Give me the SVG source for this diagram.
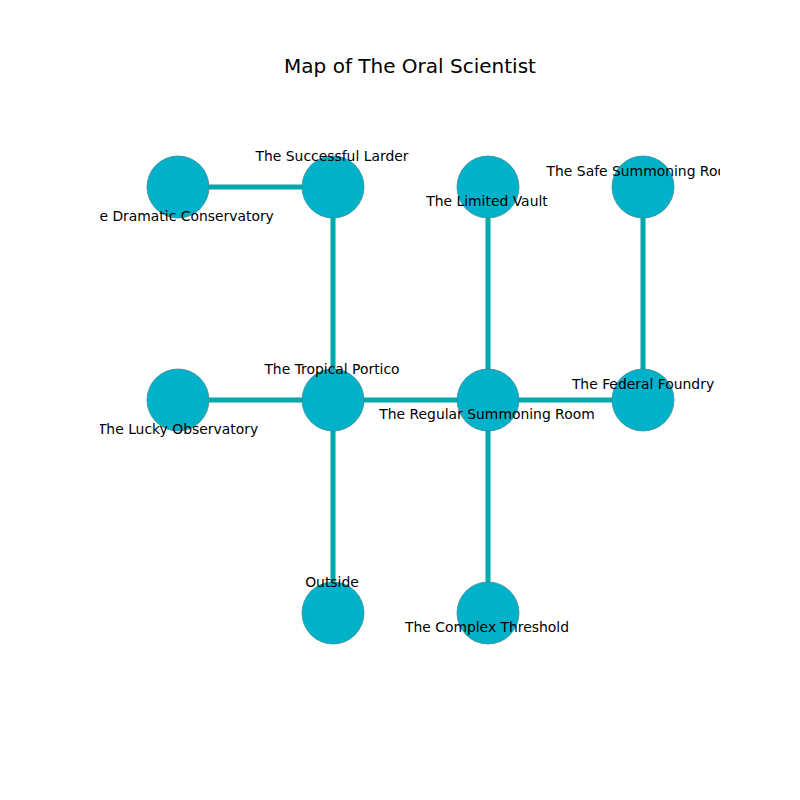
<svg xmlns="http://www.w3.org/2000/svg" width="800" height="800" viewBox="0 0 800 800">
<style>
.e{stroke:#00a8ac;stroke-width:5;fill:none}
.n{fill:#00b2c9;stroke:#3c8c98;stroke-width:0.8}
.l{font-family:"DejaVu Sans",sans-serif;font-size:13.9px;fill:#000;text-anchor:middle}
.t{font-family:"DejaVu Sans",sans-serif;font-size:20px;fill:#000;text-anchor:middle}
</style>
<defs><clipPath id="ax"><rect x="100" y="96" width="620" height="616"/></clipPath></defs>
<rect width="800" height="800" fill="#fff"/>
<text class="t" x="410" y="73">Map of The Oral Scientist</text>
<g clip-path="url(#ax)">
<g id="connectors">
<line class="e" x1="178" y1="187" x2="333" y2="187"/>
<line class="e" x1="333" y1="187" x2="333" y2="400"/>
<line class="e" x1="488" y1="187" x2="488" y2="400"/>
<line class="e" x1="643" y1="187" x2="643" y2="400"/>
<line class="e" x1="178" y1="400" x2="333" y2="400"/>
<line class="e" x1="333" y1="400" x2="488" y2="400"/>
<line class="e" x1="488" y1="400" x2="643" y2="400"/>
<line class="e" x1="333" y1="400" x2="333" y2="613"/>
<line class="e" x1="488" y1="400" x2="488" y2="613"/>
</g>
<g id="dramatic"><circle class="n" cx="178" cy="187" r="31"/><text class="l" x="178" y="221">The Dramatic Conservatory</text></g>
<g id="successful"><circle class="n" cx="333" cy="187" r="31"/><text class="l" x="332" y="161">The Successful Larder</text></g>
<g id="limited"><circle class="n" cx="488" cy="187" r="31"/><text class="l" x="487" y="206">The Limited Vault</text></g>
<g id="safe"><circle class="n" cx="643" cy="187" r="31"/><text class="l" x="643" y="176">The Safe Summoning Room</text></g>
<g id="lucky"><circle class="n" cx="178" cy="400" r="31"/><text class="l" x="178" y="434">The Lucky Observatory</text></g>
<g id="tropical"><circle class="n" cx="333" cy="400" r="31"/><text class="l" x="332" y="374">The Tropical Portico</text></g>
<g id="regular"><circle class="n" cx="488" cy="400" r="31"/><text class="l" x="487" y="419">The Regular Summoning Room</text></g>
<g id="federal"><circle class="n" cx="643" cy="400" r="31"/><text class="l" x="643" y="389">The Federal Foundry</text></g>
<g id="outside"><circle class="n" cx="333" cy="613" r="31"/><text class="l" x="332" y="587">Outside</text></g>
<g id="complex"><circle class="n" cx="488" cy="613" r="31"/><text class="l" x="487" y="632">The Complex Threshold</text></g>
</g>
</svg>
